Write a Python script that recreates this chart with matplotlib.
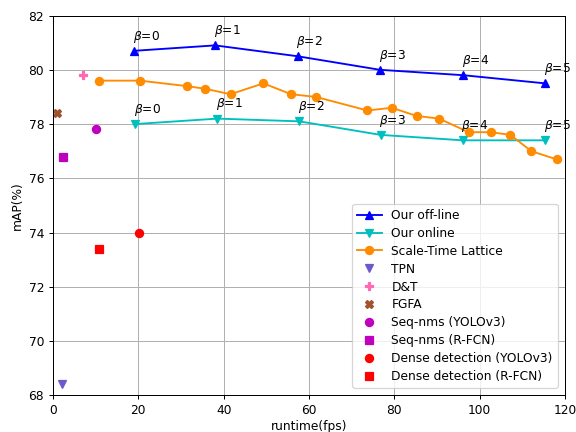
import matplotlib
matplotlib.use("Agg")
import matplotlib.pyplot as plt

offline_x = [19.0, 38.0, 57.3, 76.6, 96.2, 115.3]
offline_y = [80.7, 80.9, 80.5, 80.0, 79.8, 79.5]
online_x = [19.3, 38.5, 57.7, 76.8, 96.0, 115.4]
online_y = [78.0, 78.2, 78.1, 77.6, 77.4, 77.4]
beta_labels = [r"$\beta$=0", r"$\beta$=1", r"$\beta$=2", r"$\beta$=3", r"$\beta$=4", r"$\beta$=5"]
stl_x = [10.85, 20.4, 31.3, 35.7, 41.6, 49.3, 55.8, 61.6, 73.7, 79.4, 85.2, 90.5, 97.4, 102.6, 107.2, 112.1, 118.0]
stl_y = [79.6, 79.6, 79.4, 79.3, 79.1, 79.5, 79.1, 79.0, 78.5, 78.6, 78.3, 78.2, 77.7, 77.7, 77.6, 77.0, 76.7]

single_names = ["TPN", "D&T", "FGFA", "Seq-nms (YOLOv3)", "Seq-nms (R-FCN)",
                "Dense detection (YOLOv3)", "Dense detection (R-FCN)"]
single_x = [2.1, 6.95, 1.0, 10.1, 2.3, 20.2, 10.8]
single_y = [68.4, 79.8, 78.4, 77.8, 76.8, 74.0, 73.4]
single_colors = ["slateblue", "hotpink", "sienna", "m", "m", "r", "r"]
single_markers = ["v", "P", "X", "o", "s", "o", "s"]

plt.rcParams["font.size"] = 9.8

fig, ax = plt.subplots(figsize=(6.4, 4.8), dpi=90)
ax.plot(offline_x, offline_y, "b^-", markersize=6.5, label="Our off-line")
ax.plot(online_x, online_y, "cv-", markersize=6.5, label="Our online")
ax.plot(stl_x, stl_y, "o-", color="darkorange", markersize=6.5, label="Scale-Time Lattice")
for n, x, y, c, m in zip(single_names, single_x, single_y, single_colors, single_markers):
    ax.plot([x], [y], linestyle="none", marker=m, color=c, markersize=6.5, label=n)

for x, y, t in zip(offline_x, offline_y, beta_labels):
    ax.annotate(t, (x, y), xytext=(-1, 5), textcoords="offset points", ha="left", va="bottom")
for x, y, t in zip(online_x, online_y, beta_labels):
    ax.annotate(t, (x, y), xytext=(-1, 5), textcoords="offset points", ha="left", va="bottom")

ax.set_xlim(0, 120)
ax.set_ylim(68, 82)
ax.set_xticks(range(0, 121, 20))
ax.set_yticks(range(68, 83, 2))
ax.grid(True)
ax.set_xlabel("runtime(fps)", labelpad=2)
ax.set_ylabel("mAP(%)")
ax.legend(loc="lower right", borderaxespad=0.6, labelspacing=0.4)
fig.subplots_adjust(left=0.092, right=0.981, top=0.964, bottom=0.085)
fig.savefig("out.png")
